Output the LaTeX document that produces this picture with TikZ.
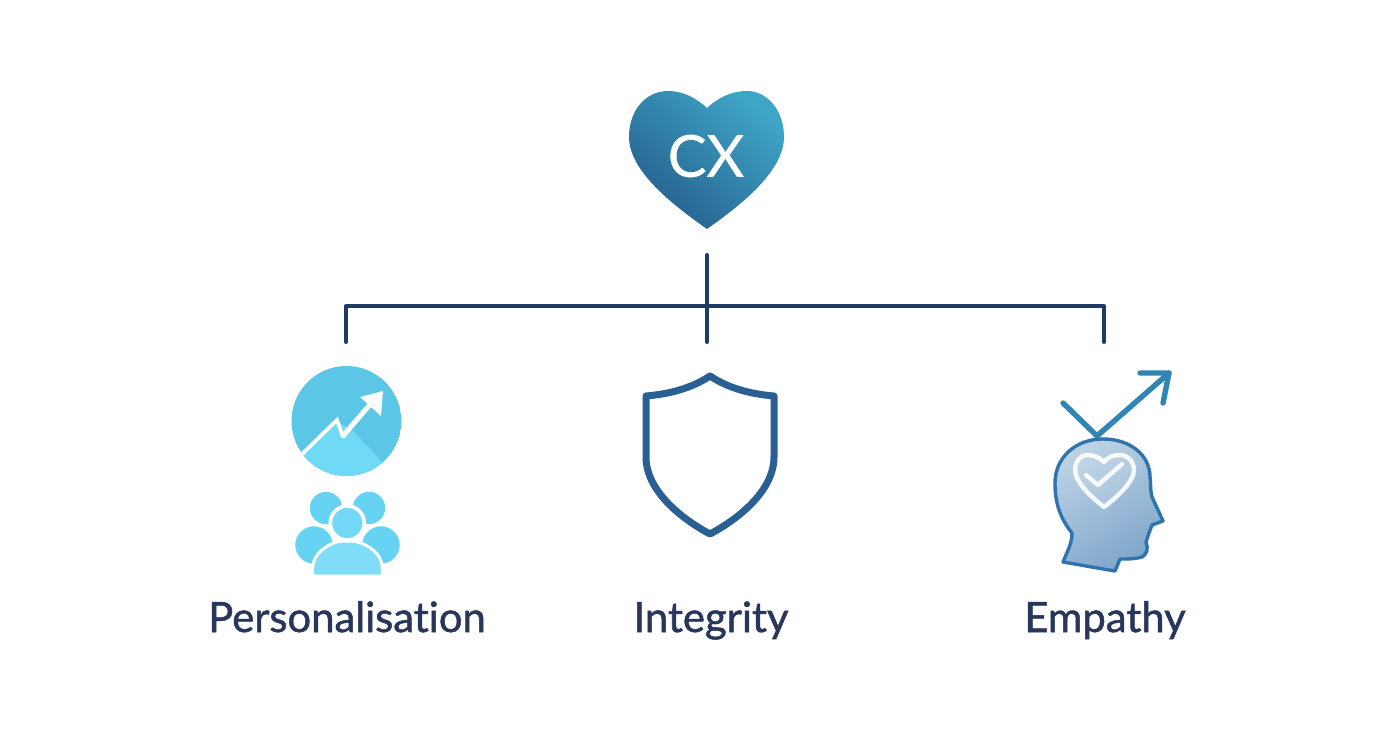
\documentclass[tikz,border=0pt]{standalone}
\usepackage{fontspec}
\setmainfont{Lato}
\newfontfamily\labelfont[FakeBold=1.2,Ligatures=NoCommon]{Lato}
\newfontfamily\cxfont[FakeBold=0.6]{Lato}
\definecolor{navy}{HTML}{1F3A63}
\definecolor{labelc}{HTML}{27365A}
\definecolor{shieldc}{HTML}{2A5F94}
\definecolor{arrowc}{HTML}{2F86B5}
\definecolor{headc}{HTML}{2F74AE}
\definecolor{heada}{HTML}{7FA6CB}
\definecolor{headb}{HTML}{BCD2E4}
\definecolor{cyanb}{HTML}{5CC6E6}
\definecolor{cyanl}{HTML}{6FD9F6}
\definecolor{peoplec}{HTML}{66D3F3}
\definecolor{bodyc}{HTML}{80DDF8}
\definecolor{hearta}{HTML}{255F8E}
\definecolor{heartb}{HTML}{3FA5C6}
\tikzset{
 conn/.style={navy,line width=4pt,line cap=round,line join=round},
 lab/.style={font=\labelfont\fontsize{41.8}{44}\selectfont,text=labelc,inner sep=0pt,anchor=base},
 person/.style={fill=peoplec,draw=white,line width=2.4pt},
}
\begin{document}
\begin{tikzpicture}[x=1pt,y=-1pt]
\useasboundingbox (0,0) rectangle (1392,752);
\fill[white] (0,0) rectangle (1392,752);
% heart
\shade[left color=hearta,right color=heartb,shading angle=140]
 (707,108) .. controls (695,97) and (682,91) .. (668,91)
 .. controls (646,91) and (629,110) .. (629,137)
 .. controls (629,170) and (670,203) .. (707,229)
 .. controls (744,203) and (784,170) .. (784,137)
 .. controls (784,110) and (767,91) .. (747,91)
 .. controls (732,91) and (719,97) .. (707,108) -- cycle;
\node[text=white,font=\cxfont\fontsize{58}{62}\selectfont,inner sep=0pt] (cx) at (706,156) {CX};
% connectors
\coordinate (top) at (707,255);
\coordinate (barl) at (346,306);
\coordinate (barr) at (1104,306);
\coordinate (dl) at (346,342);
\coordinate (dm) at (707,342);
\coordinate (dr) at (1104,342);
\draw[conn] (top) -- (dm);
\draw[conn] (dl) -- (barl) -- (barr) -- (dr);
% chart circle
\begin{scope}
\clip (346.5,421) circle (55);
\fill[cyanb] (346.5,421) circle (55);
\fill[cyanl] (298,460) -- (337,422) -- (352,430) -- (384,464) -- (340,490) -- cycle;
\draw[white,line width=3.8pt,line join=miter] (298,458) -- (337,420) -- (343,437);
\end{scope}
\draw[white,line width=5pt] (342,437) -- (373,401);
\fill[white] (383,391) -- (360,397) -- (381,416) -- cycle;
% people
\path[person] (326,508) circle (17.5);
\path[person] (369,508) circle (17.5);
\path[person] (314,545) ellipse (20 and 20);
\path[person] (381,545) ellipse (20 and 20);
\path[person,line width=3.6pt,fill=bodyc!50!peoplec] (347.3,523) circle (17);
\path[person,line width=3pt,fill=bodyc,rounded corners=3pt] (312,576) -- (313,565) .. controls (316,552) and (331,541) .. (347,541) .. controls (364,541) and (379,552) .. (382,565) -- (383,576) -- cycle;
% shield
\draw[shieldc,line width=7pt,line join=round]
 (710,376) .. controls (692,388) and (670,394) .. (646,396)
 -- (646,457) .. controls (646,490) and (680,518) .. (710,534)
 .. controls (740,518) and (774,490) .. (774,457)
 -- (774,396) .. controls (750,394) and (728,388) .. (710,376) -- cycle;
% arrow over head
\draw[arrowc,line width=5.4pt,line cap=round,line join=round] (1063,403) -- (1097,436) -- (1169,373);
\draw[arrowc,line width=5.4pt,line cap=round,line join=round] (1140,373) -- (1169,373) -- (1163,403);
% head
\shade[left color=headb,right color=heada,shading angle=30,draw=headc,line width=3.4pt,line join=round]
 (1103,439) .. controls (1130,439) and (1150,455) .. (1150,477)
 .. controls (1151,485) and (1150,490) .. (1152,497)
 -- (1163,521) -- (1152,525) -- (1149,533) -- (1146,542)
 .. controls (1148,548) and (1148,553) .. (1142,557)
 .. controls (1135,559) and (1128,559) .. (1120,559)
 -- (1115,571) -- (1063,562)
 .. controls (1068,550) and (1072,543) .. (1072,533)
 .. controls (1060,518) and (1055,503) .. (1055,483)
 .. controls (1055,458) and (1075,439) .. (1103,439) -- cycle;
% heart in head
\draw[white,line width=4.4pt,line join=round,fill=white,fill opacity=.12,draw opacity=.9]
 (1104,462) .. controls (1098,456) and (1092,455) .. (1087,455)
 .. controls (1080,455) and (1075,462) .. (1075,470)
 .. controls (1075,482) and (1092,498) .. (1104,507)
 .. controls (1116,498) and (1134,482) .. (1134,470)
 .. controls (1134,462) and (1128,455) .. (1120,455)
 .. controls (1114,455) and (1109,456) .. (1104,462) -- cycle;
\draw[white,line width=4.4pt,line join=round,line cap=round,opacity=.9] (1086,475) -- (1098,485) -- (1122,464);
% labels
\node[lab] (pers) at (347,632) {Personalisation};
\node[lab] (integ) at (711,632) {Integrity};
\node[lab] (emp) at (1105,632) {Empathy};
\end{tikzpicture}
\end{document}
